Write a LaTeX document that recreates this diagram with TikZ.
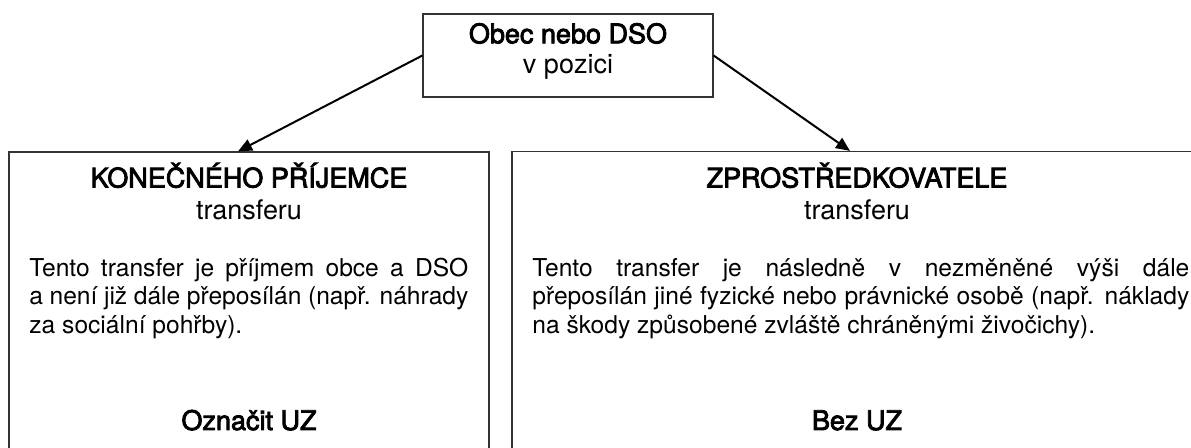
\documentclass[tikz,border=0pt]{standalone}
\usepackage{fontspec}
\setmainfont{TeX Gyre Heros}
\newfontfamily\mediumfont[FakeBold=3]{TeX Gyre Heros}
\usetikzlibrary{arrows.meta}
\begin{document}
\begin{tikzpicture}[x=0.5pt,y=-0.5pt,
  box/.style={draw=black!80, line width=0.6pt, inner sep=0pt},
  head/.style={font=\fontsize{13.5}{15}\selectfont\mediumfont, anchor=base, inner sep=0pt},
  sub/.style={font=\fontsize{13.5}{15}\selectfont, anchor=base, inner sep=0pt},
  body/.style={font=\fontsize{12.3}{14.25}\selectfont, align=justify, anchor=north west, inner sep=0pt},
  arr/.style={-{Triangle[length=7pt,width=6pt]}, line width=1pt}]
\useasboundingbox (0,0) rectangle (1191,448);
\node [box, minimum width=145pt, minimum height=41.5pt, align=center, font=\fontsize{13.5}{15}\selectfont] (obec) at (568,55.5) {{\mediumfont Obec nebo DSO}\\v pozici\rule[-7.3pt]{0pt}{0pt}};
\node [box, minimum width=240pt, minimum height=159pt] (konecny) at (249,311) {};
\node [box, minimum width=348pt, minimum height=159pt] (zprostr) at (860,310.5) {};
\node [head] (konecnyT) at (249,187.5) {KONEČNÉHO PŘÍJEMCE};
\node [sub] (konecnyS) at (249,220) {transferu};
\node [body, text width=219.5pt] (konecnyB) at (29,256) {\strut Tento transfer je příjmem obce a DSO\linebreak a není již dále přeposílán (např. náhrady\linebreak za sociální pohřby).};
\node [head] (konecnyU) at (249,430) {Označit UZ};
\node [head] (zprostrT) at (857,187.5) {ZPROSTŘEDKOVATELE};
\node [sub] (zprostrS) at (857,220) {transferu};
\node [body, text width=328.5pt] (zprostrB) at (532,256) {\strut Tento transfer je následně v~nezměněné výši dále\linebreak přeposílán jiné fyzické nebo právnické osobě (např. náklady\linebreak na škody způsobené zvláště chráněnými živočichy).};
\node [head] (zprostrU) at (857,430) {Bez UZ};
\draw [arr] (obec.west) -- ([xshift=-5.5pt]konecny.north);
\draw [arr] (obec.east) -- ([xshift=-5pt]zprostr.north);
\end{tikzpicture}
\end{document}
